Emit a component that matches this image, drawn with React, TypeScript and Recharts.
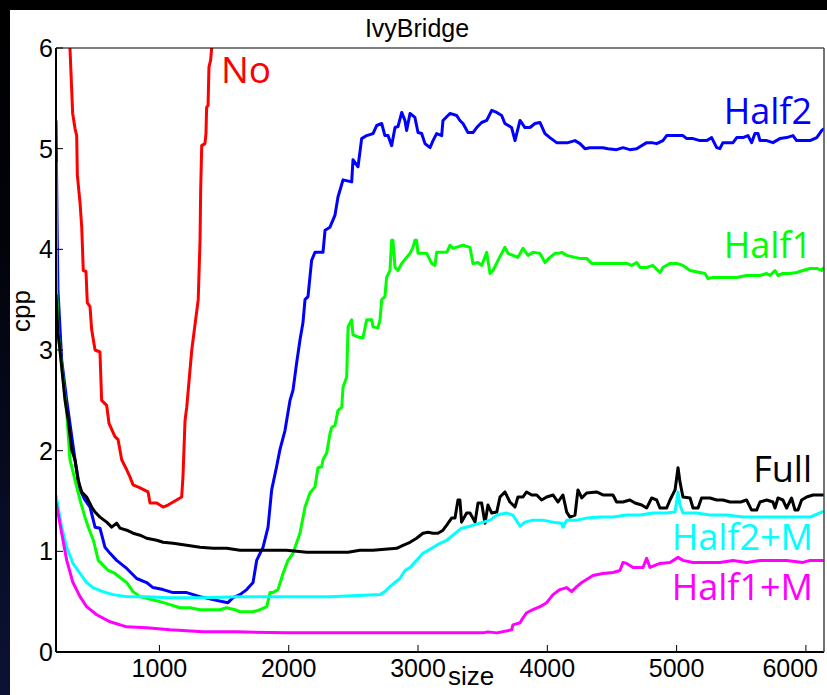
import React from 'react';
import { LineChart, Line, XAxis, YAxis } from 'recharts';

type P = [number, number];

// size (x) vs cpp (y)
const NO: P[] = [
  [300, 6.3], [308, 6.0], [329, 5.35], [347, 5.2], [360, 5.13], [365, 4.74], [386, 4.46], [399, 4.22],
  [411, 3.79], [432, 3.78], [442, 3.47], [463, 3.43], [476, 3.2], [502, 3.0], [540, 2.98], [553, 2.5],
  [592, 2.45], [610, 2.27], [656, 2.14], [680, 2.11], [708, 1.91], [747, 1.81], [772, 1.74], [796, 1.66],
  [850, 1.63], [912, 1.59], [927, 1.48], [979, 1.48], [1028, 1.44], [1066, 1.46], [1133, 1.51],
  [1172, 1.54], [1182, 1.74], [1198, 2.3], [1211, 2.43], [1250, 3.0], [1300, 3.5], [1314, 4.09],
  [1319, 4.59], [1327, 5.03], [1352, 5.05], [1360, 5.15], [1365, 5.41], [1376, 5.43], [1383, 5.81],
  [1396, 5.88], [1404, 6.0], [1414, 6.2],
];

const HALF2: P[] = [
  [200, 5.28], [208, 4.3], [215, 3.6], [244, 2.9], [283, 2.5], [347, 1.91], [386, 1.61], [424, 1.51],
  [463, 1.44], [502, 1.24], [540, 1.23], [579, 1.04], [618, 0.98], [669, 0.91], [747, 0.83], [824, 0.73],
  [901, 0.69], [950, 0.64], [1028, 0.62], [1105, 0.59], [1211, 0.59], [1314, 0.55], [1414, 0.52],
  [1492, 0.5], [1530, 0.49], [1569, 0.54], [1623, 0.57], [1675, 0.62], [1724, 0.69], [1752, 0.91],
  [1801, 1.04], [1840, 1.24], [1868, 1.61], [1906, 1.84], [1932, 2.01], [1971, 2.2], [2010, 2.5],
  [2033, 2.6], [2061, 2.87], [2087, 3.1], [2110, 3.27], [2126, 3.5], [2149, 3.53], [2177, 3.89],
  [2203, 3.97], [2265, 3.97], [2281, 4.19], [2319, 4.22], [2358, 4.34], [2381, 4.52], [2420, 4.69],
  [2487, 4.67], [2497, 4.89], [2536, 4.82], [2564, 5.1], [2603, 5.13], [2652, 5.15], [2680, 5.23],
  [2719, 5.25], [2744, 5.13], [2768, 5.13], [2796, 5.03], [2822, 5.21], [2845, 5.22], [2874, 5.36],
  [2899, 5.28], [2912, 5.18], [2938, 5.35], [2976, 5.31], [3000, 5.16], [3028, 5.15], [3054, 5.05],
  [3093, 5.01], [3116, 5.08], [3144, 5.15], [3183, 5.13], [3193, 5.28], [3247, 5.35], [3299, 5.33],
  [3324, 5.28], [3348, 5.25], [3386, 5.16], [3425, 5.16], [3454, 5.21], [3492, 5.26], [3531, 5.28],
  [3570, 5.38], [3609, 5.36], [3647, 5.33], [3672, 5.25], [3724, 5.21], [3750, 5.08], [3789, 5.28],
  [3827, 5.21], [3866, 5.21], [3905, 5.25], [3943, 5.26], [3982, 5.15], [4020, 5.11], [4072, 5.06],
  [4121, 5.06], [4160, 5.06], [4214, 5.08], [4253, 5.05], [4291, 5.0], [4330, 5.01], [4381, 5.01],
  [4430, 5.01], [4469, 5.0], [4536, 4.99], [4585, 5.01], [4639, 4.99], [4691, 5.0], [4768, 5.06],
  [4807, 5.06], [4846, 5.05], [4894, 5.08], [4923, 5.13], [4972, 5.13], [5049, 5.13], [5078, 5.1],
  [5127, 5.1], [5181, 5.08], [5232, 5.08], [5271, 5.11], [5310, 5.01], [5335, 5.0], [5358, 5.06],
  [5436, 5.06], [5465, 5.11], [5513, 5.11], [5552, 5.13], [5580, 5.06], [5606, 5.15], [5630, 5.15],
  [5645, 5.08], [5697, 5.08], [5745, 5.06], [5799, 5.1], [5851, 5.11], [5900, 5.13], [5928, 5.08],
  [6032, 5.08], [6084, 5.11], [6122, 5.18], [6140, 5.2],
];

const HALF1: P[] = [
  [200, 4.87], [205, 3.6], [215, 3.2], [231, 3.0], [283, 2.37], [308, 1.91], [360, 1.64], [386, 1.51],
  [424, 1.34], [450, 1.24], [489, 1.11], [527, 0.91], [566, 0.86], [604, 0.81], [656, 0.78], [695, 0.74],
  [747, 0.69], [796, 0.6], [850, 0.55], [940, 0.52], [1004, 0.5], [1082, 0.47], [1159, 0.44],
  [1236, 0.44], [1314, 0.42], [1365, 0.42], [1414, 0.42], [1468, 0.42], [1520, 0.44], [1584, 0.42],
  [1623, 0.4], [1724, 0.4], [1778, 0.42], [1830, 0.45], [1855, 0.59], [1878, 0.59], [1917, 0.62],
  [1956, 0.78], [1994, 0.91], [2033, 0.98], [2087, 1.18], [2126, 1.44], [2164, 1.58], [2203, 1.64],
  [2226, 1.83], [2255, 1.84], [2265, 1.91], [2294, 1.98], [2319, 2.17], [2332, 2.23], [2358, 2.25],
  [2381, 2.4], [2410, 2.43], [2420, 2.63], [2448, 2.73], [2459, 3.23], [2487, 3.3], [2497, 3.15],
  [2536, 3.13], [2574, 3.12], [2603, 3.3], [2642, 3.3], [2652, 3.23], [2690, 3.22], [2706, 3.3],
  [2719, 3.5], [2744, 3.53], [2757, 3.72], [2783, 3.79], [2796, 4.09], [2806, 4.09], [2822, 3.82],
  [2845, 3.79], [2874, 3.86], [2912, 3.92], [2938, 3.96], [2961, 4.02], [2976, 4.09], [2989, 4.09],
  [3000, 3.96], [3067, 3.96], [3106, 3.86], [3131, 3.84], [3144, 3.97], [3222, 3.97], [3247, 4.04],
  [3270, 4.01], [3348, 4.04], [3402, 4.02], [3425, 3.86], [3464, 3.87], [3492, 3.84], [3531, 3.97],
  [3557, 3.76], [3580, 3.79], [3619, 3.89], [3647, 3.96], [3672, 4.02], [3696, 3.96], [3734, 3.94],
  [3773, 3.92], [3812, 4.01], [3851, 3.94], [3889, 3.97], [3943, 3.96], [3982, 3.87], [4020, 3.92],
  [4059, 3.96], [4083, 3.96], [4111, 3.97], [4150, 3.94], [4214, 3.92], [4253, 3.91], [4304, 3.91],
  [4343, 3.86], [4407, 3.86], [4459, 3.86], [4536, 3.86], [4614, 3.86], [4652, 3.84], [4691, 3.87],
  [4717, 3.82], [4768, 3.82], [4817, 3.84], [4871, 3.77], [4894, 3.82], [4949, 3.86], [5001, 3.86],
  [5049, 3.84], [5104, 3.79], [5181, 3.77], [5219, 3.76], [5242, 3.71], [5281, 3.72], [5335, 3.72],
  [5387, 3.72], [5465, 3.72], [5541, 3.74], [5591, 3.74], [5645, 3.74], [5697, 3.76], [5722, 3.74],
  [5761, 3.79], [5784, 3.74], [5822, 3.76], [5876, 3.76], [5928, 3.77], [5977, 3.79], [6032, 3.81],
  [6084, 3.81], [6122, 3.79], [6140, 3.82],
];

const FULL: P[] = [
  [200, 3.55], [215, 3.17], [231, 3.0], [244, 2.83], [270, 2.5], [295, 2.3], [321, 2.01], [347, 1.91],
  [370, 1.71], [399, 1.59], [437, 1.54], [476, 1.44], [502, 1.39], [540, 1.34], [592, 1.29], [631, 1.24],
  [669, 1.28], [695, 1.23], [747, 1.21], [796, 1.18], [850, 1.16], [901, 1.13], [979, 1.11], [1028, 1.09],
  [1105, 1.08], [1211, 1.06], [1314, 1.04], [1414, 1.03], [1520, 1.03], [1623, 1.01], [1724, 1.01],
  [1830, 1.01], [1984, 1.01], [2139, 0.99], [2242, 0.99], [2459, 0.99], [2551, 1.01], [2652, 1.01],
  [2835, 1.03], [2884, 1.06], [2938, 1.09], [2989, 1.13], [3038, 1.18], [3077, 1.19], [3116, 1.18],
  [3154, 1.18], [3193, 1.21], [3222, 1.26], [3260, 1.33], [3286, 1.33], [3309, 1.51], [3324, 1.51],
  [3337, 1.29], [3376, 1.38], [3402, 1.38], [3441, 1.29], [3464, 1.48], [3492, 1.48], [3518, 1.28],
  [3541, 1.46], [3570, 1.38], [3609, 1.39], [3634, 1.54], [3672, 1.59], [3711, 1.49], [3750, 1.44],
  [3773, 1.54], [3812, 1.54], [3840, 1.59], [3879, 1.56], [3918, 1.56], [3956, 1.51], [3995, 1.54],
  [4044, 1.56], [4083, 1.49], [4121, 1.56], [4150, 1.39], [4175, 1.34], [4214, 1.36], [4237, 1.61],
  [4266, 1.53], [4304, 1.58], [4381, 1.59], [4430, 1.56], [4508, 1.56], [4536, 1.49], [4585, 1.49],
  [4639, 1.51], [4678, 1.48], [4730, 1.46], [4768, 1.43], [4807, 1.53], [4846, 1.51], [4871, 1.43],
  [4923, 1.43], [4949, 1.51], [4988, 1.61], [5011, 1.83], [5026, 1.69], [5049, 1.54], [5104, 1.53],
  [5127, 1.43], [5166, 1.43], [5193, 1.53], [5258, 1.53], [5310, 1.51], [5358, 1.51], [5413, 1.49],
  [5496, 1.49], [5541, 1.51], [5580, 1.41], [5619, 1.41], [5645, 1.49], [5697, 1.51], [5745, 1.49],
  [5761, 1.43], [5784, 1.53], [5822, 1.51], [5851, 1.43], [5889, 1.53], [5916, 1.41], [5939, 1.41],
  [5967, 1.51], [6006, 1.54], [6055, 1.56], [6140, 1.56],
];

const HALF2M: P[] = [
  [200, 1.56], [244, 1.24], [283, 1.04], [331, 0.88], [386, 0.78], [437, 0.69], [486, 0.64], [563, 0.6],
  [641, 0.57], [747, 0.55], [901, 0.55], [1082, 0.54], [1337, 0.54], [1597, 0.55], [1855, 0.55],
  [2110, 0.55], [2319, 0.55], [2706, 0.57], [2744, 0.6], [2783, 0.65], [2822, 0.69], [2860, 0.73],
  [2899, 0.81], [2938, 0.84], [2989, 0.91], [3038, 0.98], [3106, 1.03], [3170, 1.08], [3222, 1.11],
  [3270, 1.16], [3337, 1.23], [3402, 1.25], [3479, 1.28], [3557, 1.31], [3609, 1.36], [3686, 1.38],
  [3734, 1.36], [3789, 1.25], [3827, 1.29], [3889, 1.31], [3966, 1.31], [4044, 1.29], [4111, 1.28],
  [4121, 1.24], [4150, 1.31], [4227, 1.31], [4304, 1.33], [4407, 1.34], [4508, 1.34], [4614, 1.36],
  [4717, 1.36], [4817, 1.38], [4923, 1.38], [4988, 1.39], [5011, 1.59], [5026, 1.46], [5049, 1.38],
  [5155, 1.38], [5258, 1.36], [5387, 1.36], [5513, 1.34], [5645, 1.34], [5774, 1.34], [5900, 1.34],
  [6032, 1.34], [6122, 1.39], [6140, 1.4],
];

const HALF1M: P[] = [
  [200, 1.49], [244, 1.18], [283, 0.91], [331, 0.69], [386, 0.55], [437, 0.45], [515, 0.37], [618, 0.3],
  [747, 0.25], [901, 0.24], [1082, 0.22], [1337, 0.2], [1597, 0.2], [1984, 0.19], [2500, 0.19],
  [3000, 0.19], [3502, 0.19], [3541, 0.2], [3609, 0.19], [3724, 0.22], [3734, 0.27], [3789, 0.29],
  [3812, 0.34], [3840, 0.39], [3889, 0.42], [3943, 0.45], [3995, 0.49], [4044, 0.57], [4098, 0.62],
  [4150, 0.64], [4188, 0.6], [4227, 0.65], [4266, 0.69], [4304, 0.72], [4353, 0.76], [4430, 0.78],
  [4508, 0.79], [4562, 0.81], [4585, 0.89], [4614, 0.88], [4663, 0.84], [4740, 0.84], [4768, 0.93],
  [4794, 0.84], [4871, 0.88], [4949, 0.89], [5011, 0.94], [5049, 0.91], [5127, 0.89], [5232, 0.89],
  [5335, 0.89], [5436, 0.91], [5541, 0.89], [5645, 0.91], [5745, 0.91], [5851, 0.91], [5977, 0.89],
  [6032, 0.91], [6140, 0.91],
];

const X_DOMAIN: [number, number] = [200, 6140];
const Y_DOMAIN: [number, number] = [0, 6];
const X_TICKS = [1000, 2000, 3000, 4000, 5000, 6000];
const Y_TICKS = [0, 1, 2, 3, 4, 5, 6];

const SERIES = [
  { name: 'No', color: '#ff0000', points: NO },
  { name: 'Half2', color: '#0000ff', points: HALF2 },
  { name: 'Half1', color: '#00ff00', points: HALF1 },
  { name: 'Full', color: '#000000', points: FULL },
  { name: 'Half2+M', color: '#00ffff', points: HALF2M },
  { name: 'Half1+M', color: '#ff00ff', points: HALF1M },
];

// label placement (layout only)
const LABEL_POS: Record<string, { x: number; y: number; anchor: 'start' | 'end' }> = {
  'No': { x: 221, y: 83, anchor: 'start' },
  'Half2': { x: 812, y: 124, anchor: 'end' },
  'Half1': { x: 812, y: 258, anchor: 'end' },
  'Full': { x: 812, y: 482, anchor: 'end' },
  'Half2+M': { x: 813, y: 550, anchor: 'end' },
  'Half1+M': { x: 813, y: 600, anchor: 'end' },
};

const AXIS_FONT = '"Liberation Sans", Arial, Helvetica, sans-serif';
const LABEL_FONT = '"Open Sans", "Noto Sans", sans-serif';
const TICK_FONT_SIZE = 25;
const TEXT_RIGHT_LIMIT = 818;

const toRows = (pts: P[]) => pts.map(([x, y]) => ({ x, y }));

const XTick = (props: any) => {
  const { x, payload } = props;
  const label = String(payload.value);
  const half = (label.length * 0.556 * TICK_FONT_SIZE) / 2;
  const cx = Math.min(x, TEXT_RIGHT_LIMIT - half);
  return (
    <text x={cx} y={677} textAnchor="middle" fontFamily={AXIS_FONT} fontSize={TICK_FONT_SIZE} fill="#000">
      {label}
    </text>
  );
};

const YTick = (props: any) => {
  const { y, payload } = props;
  return (
    <text x={53} y={y + 9} textAnchor="end" fontFamily={AXIS_FONT} fontSize={TICK_FONT_SIZE} fill="#000">
      {payload.value}
    </text>
  );
};

export default function App() {
  return (
    <div
      style={{
        position: 'absolute',
        left: 0,
        top: 0,
        width: 827,
        height: 695,
        overflow: 'hidden',
        background: 'linear-gradient(180deg, #000000 0%, #02030a 35%, #070b22 70%, #0c1234 100%)',
      }}
    >
      <div style={{ position: 'absolute', left: 10, top: 10, width: 817, height: 685, background: '#ffffff' }} />
      <div style={{ position: 'absolute', left: 0, top: 0 }}>
        <LineChart width={827} height={695} margin={{ top: 47, right: 2, bottom: 42, left: 55 }}>
          <XAxis
            xAxisId="b"
            dataKey="x"
            type="number"
            domain={X_DOMAIN}
            ticks={X_TICKS}
            allowDataOverflow
            interval={0}
            height={1}
            tickSize={-7}
            axisLine={{ stroke: '#000', strokeWidth: 2 }}
            tickLine={{ stroke: '#000', strokeWidth: 1 }}
            tick={<XTick />}
          />
          <XAxis
            xAxisId="t"
            orientation="top"
            dataKey="x"
            type="number"
            domain={X_DOMAIN}
            ticks={X_TICKS}
            allowDataOverflow
            interval={0}
            height={1}
            tickSize={-7}
            axisLine={{ stroke: '#000', strokeWidth: 1.2 }}
            tickLine={{ stroke: '#000', strokeWidth: 1 }}
            tick={false}
          />
          <YAxis
            yAxisId="l"
            type="number"
            domain={Y_DOMAIN}
            ticks={Y_TICKS}
            allowDataOverflow
            interval={0}
            width={1}
            tickSize={-7}
            axisLine={{ stroke: '#000', strokeWidth: 2 }}
            tickLine={{ stroke: '#000', strokeWidth: 1 }}
            tick={<YTick />}
          />
          <YAxis
            yAxisId="r"
            orientation="right"
            type="number"
            domain={Y_DOMAIN}
            ticks={Y_TICKS}
            allowDataOverflow
            interval={0}
            width={1}
            tickSize={-7}
            axisLine={{ stroke: '#444', strokeWidth: 1.5 }}
            tickLine={{ stroke: '#000', strokeWidth: 1 }}
            tick={false}
          />
          {SERIES.map((s) => (
            <Line
              key={s.name}
              xAxisId="b"
              yAxisId="l"
              data={toRows(s.points)}
              dataKey="y"
              name={s.name}
              type="linear"
              stroke={s.color}
              strokeWidth={3}
              strokeLinejoin="round"
              dot={false}
              activeDot={false}
              isAnimationActive={false}
            />
          ))}
        </LineChart>
      </div>
      <svg
        width={827}
        height={695}
        style={{ position: 'absolute', left: 0, top: 0, pointerEvents: 'none' }}
      >
        <text x={417} y={37} textAnchor="middle" fontFamily={AXIS_FONT} fontSize={25} fill="#000">
          IvyBridge
        </text>
        <text x={471} y={685} textAnchor="middle" fontFamily={AXIS_FONT} fontSize={26} fill="#000">
          size
        </text>
        <text
          x={30}
          y={311}
          textAnchor="middle"
          fontFamily={AXIS_FONT}
          fontSize={26}
          fill="#000"
          transform="rotate(-90, 30, 311)"
        >
          cpp
        </text>
        {SERIES.map((s) => {
          const p = LABEL_POS[s.name];
          return (
            <text
              key={s.name}
              x={p.x}
              y={p.y}
              textAnchor={p.anchor}
              fontFamily={LABEL_FONT}
              fontSize={s.name === 'No' ? 37 : 36}
              fill={s.color}
            >
              {s.name}
            </text>
          );
        })}
      </svg>
    </div>
  );
}
